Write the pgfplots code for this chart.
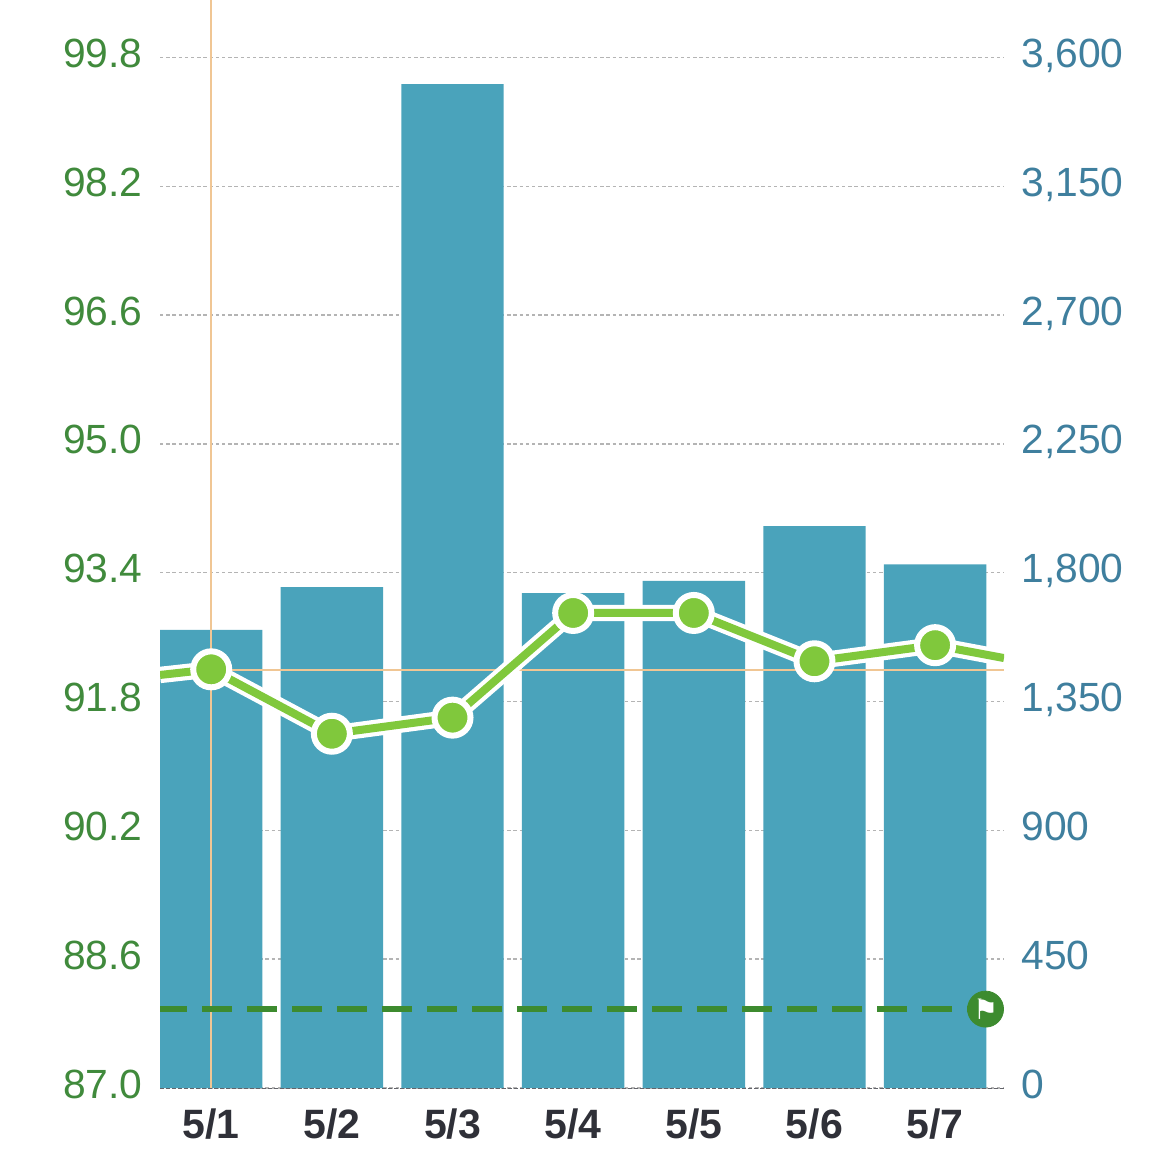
\documentclass[border=0pt]{standalone}
\usepackage{fontspec}
\setmainfont{Liberation Sans}
\newfontfamily\flagfont{DejaVu Sans}
\usepackage{pgfplots}
\usepackage{pgfplotstable}
\pgfplotsset{compat=1.18}

\definecolor{barblue}{HTML}{4AA3BB}
\definecolor{rightlabel}{HTML}{3F7F9E}
\definecolor{leftlabel}{HTML}{408A3C}
\definecolor{linegreen}{HTML}{80C83C}
\definecolor{flaggreen}{HTML}{3D8B2F}
\definecolor{crosshair}{HTML}{F0C694}
\definecolor{xlabel}{HTML}{2F3038}
\definecolor{gridgray}{HTML}{B4B4B4}

\pgfplotstableread{
x count
0 1600
1 1750
2 3507
3 1729
4 1771
5 1963
6 1829
}\bars

\pgfplotstableread{
x pct
-0.4245 92.13
0 92.2
1 91.4
2 91.6
3 92.9
4 92.9
5 92.3
6 92.5
6.571 92.34
}\rate

\pgfplotsset{
  chartbase/.style={
    scale only axis,
    at={(80pt,38pt)},
    anchor=south west,
    width=422pt,
    height=544pt,
    xmin=-0.4245, xmax=6.571,
    axis line style={draw=none},
    major tick length=0pt,
    tick style={draw=none},
  },
}

\begin{document}
\begin{tikzpicture}
\useasboundingbox (0,0) rectangle (585pt,582pt);

% bars, right scale, grid
\begin{axis}[
    chartbase,
    ymin=0, ymax=3800.5,
    ytick={0,450,900,1350,1800,2250,2700,3150,3600},
    ytick pos=right,
    yticklabel pos=right,
    /pgf/number format/assume math mode=true,
    /pgf/number format/fixed,
    /pgf/number format/1000 sep={,},
    yticklabel style={
      font=\fontsize{20.4}{24}\selectfont, text=rightlabel,
      anchor=base west, inner sep=0pt, xshift=8.5pt, yshift=-5pt},
    xtick={0,1,2,3,4,5,6},
    xticklabels={5/1,5/2,5/3,5/4,5/5,5/6,5/7},
    xticklabel style={
      font=\fontsize{20.5}{24}\selectfont\bfseries, text=xlabel,
      anchor=base, inner sep=0pt, yshift=-25pt},
    ymajorgrids,
    grid style={gridgray, line width=0.7pt, dash pattern=on 1.7pt off 1.4pt},
]
\addplot[ybar, bar width=51.2pt, bar shift=0pt, fill=barblue, draw=none] table[x=x,y=count] {\bars};
\addplot[line width=0.5pt, xlabel!75, dash pattern=on 2pt off 1pt] coordinates {(-0.4245,0) (6.571,0)};
\end{axis}

% rate line, left scale
\begin{axis}[
    chartbase,
    ymin=87, ymax=100.513,
    ytick={87,88.6,90.2,91.8,93.4,95,96.6,98.2,99.8},
    ytick pos=left,
    yticklabel pos=left,
    /pgf/number format/assume math mode=true,
    /pgf/number format/fixed,
    /pgf/number format/fixed zerofill,
    /pgf/number format/precision=1,
    yticklabel style={
      font=\fontsize{20.4}{24}\selectfont, text=leftlabel,
      anchor=base east, inner sep=0pt, xshift=-8.5pt, yshift=-5pt},
    xtick=\empty,
]
% crosshair
\addplot[crosshair, line width=0.8pt] coordinates {(0,87) (0,100.513)};
\addplot[crosshair, line width=1pt] coordinates {(-0.4245,92.19) (6.571,92.19)};
% target
\addplot[flaggreen, line width=3pt, dash pattern=on 15pt off 7.5pt, dash phase=1.5pt] coordinates {(-0.4245,87.98) (6.42,87.98)};
\addplot[only marks, mark=*, mark size=9pt, mark options={fill=flaggreen, draw=flaggreen},
    nodes near coords={\flagfont\char"2691},
    every node near coord/.style={anchor=center, text=white, inner sep=0pt,
      font=\fontsize{14}{15}\selectfont}] coordinates {(6.418,87.98)};
% rate
\addplot[white, line width=8.2pt, line join=round] table[x=x,y=pct] {\rate};
\addplot[linegreen, line width=4pt, line join=round] table[x=x,y=pct] {\rate};
\addplot[only marks, mark=*, mark size=9pt, mark options={fill=linegreen, draw=white, line width=3pt}]
    coordinates {(0,92.2) (1,91.4) (2,91.6) (3,92.9) (4,92.9) (5,92.3) (6,92.5)};
\end{axis}
\end{tikzpicture}
\end{document}
